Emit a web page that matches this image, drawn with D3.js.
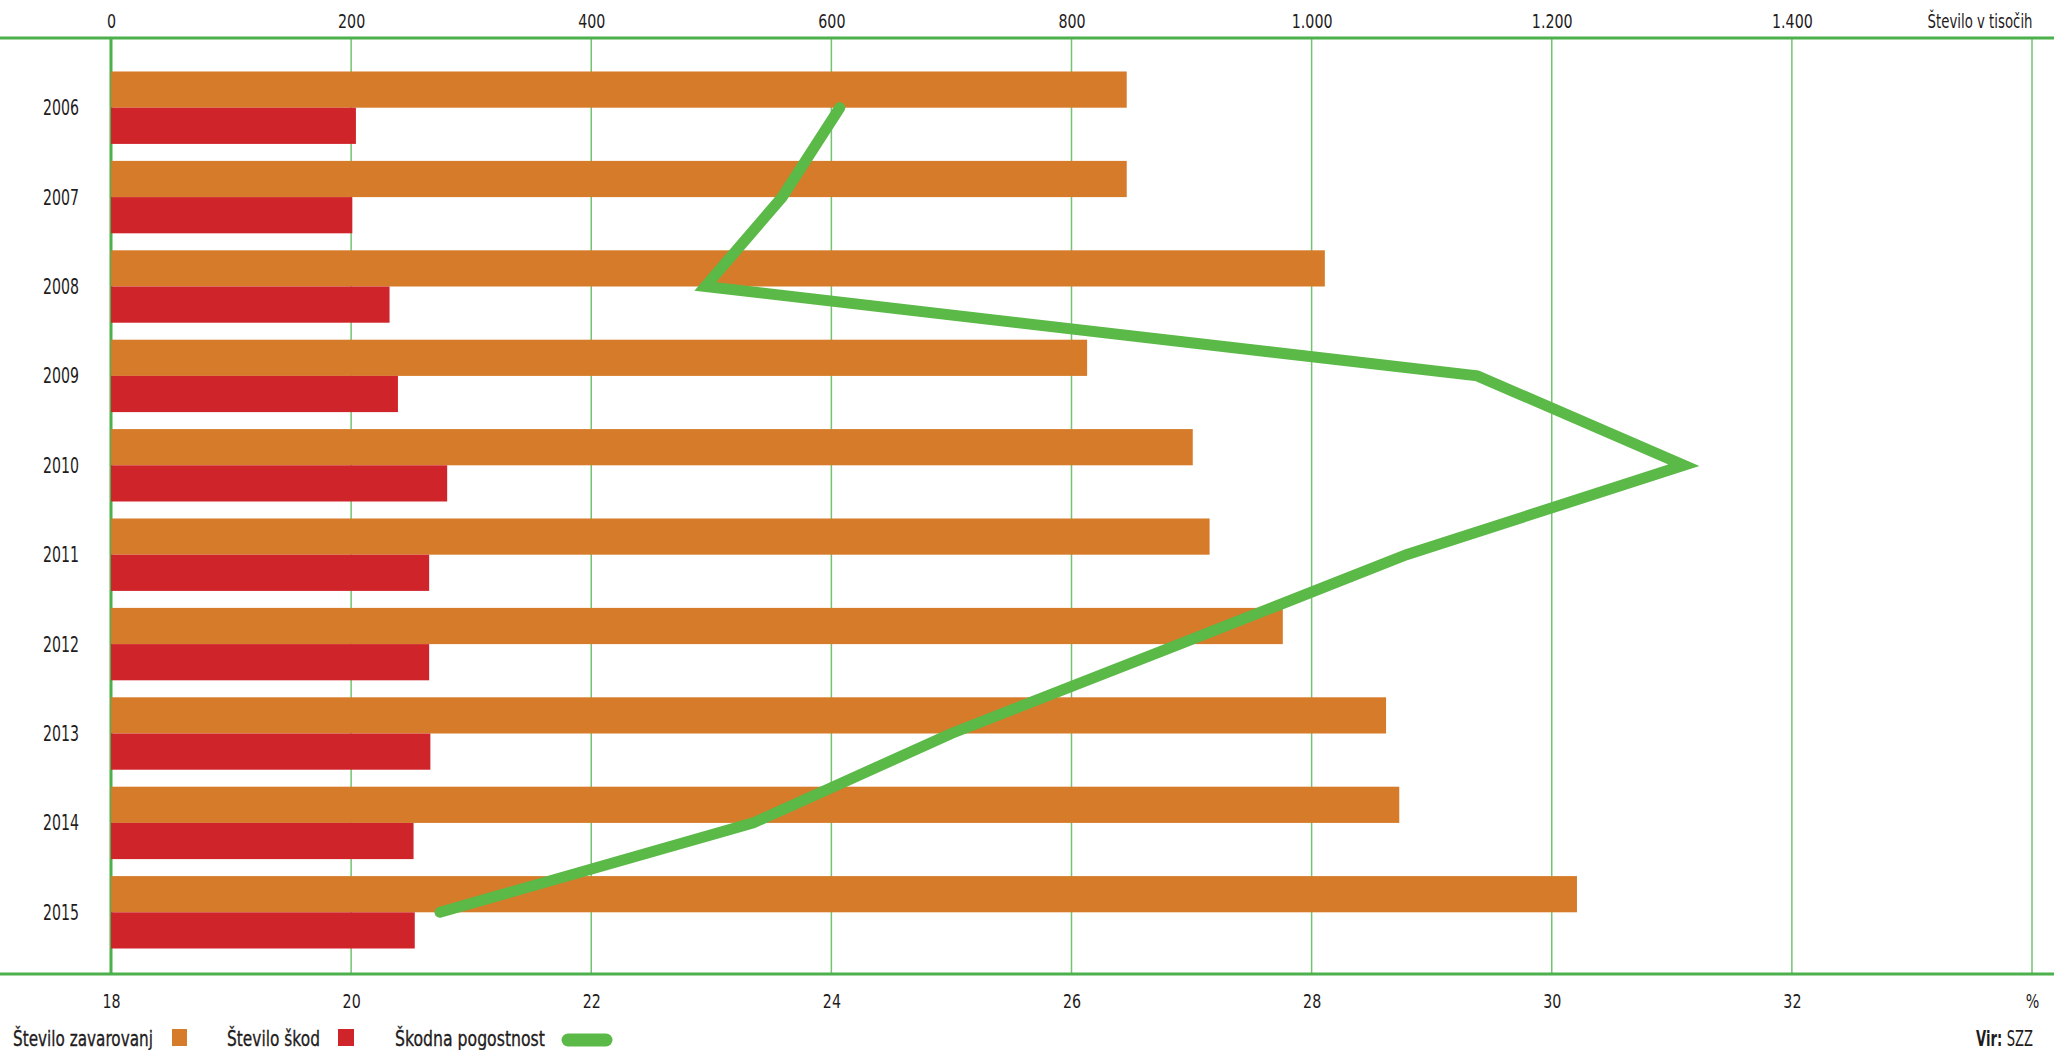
<!DOCTYPE html>
<html lang="sl">
<head>
    <meta charset="utf-8">
    <title>Število zavarovanj, škod in škodna pogostnost</title>
    <script src="https://cdn.jsdelivr.net/npm/d3@7"></script>
    <style type="text/css">
        body {
            margin: 0;
            background: #fff;
        }
        text {
            font-family: "DejaVu Sans", sans-serif;
            fill: #1f1c1d;
        }
        .tick text {
            font-size: 19px;
        }
        text.year {
            font-size: 21px;
        }
        text.legend {
            font-size: 21px;
            stroke: #1f1c1d;
            stroke-width: 0.35px;
        }
    </style>
</head>
<body>
<script type="text/javascript">

    var years = ["2006", "2007", "2008", "2009", "2010", "2011", "2012", "2013", "2014", "2015"];
    // Število zavarovanj (v tisočih)
    var zavarovanja = [846, 846, 1011, 813, 901, 915, 976, 1062, 1073, 1221];
    // Število škod (v tisočih)
    var skode = [204, 201, 232, 239, 280, 265, 265, 266, 252, 253];
    // Škodna pogostnost (%)
    var pogostnost = [24.07, 23.59, 22.95, 29.38, 31.1, 28.79, 26.9, 25.0, 23.35, 20.74];

    var topTicks = [0, 200, 400, 600, 800, 1000, 1200, 1400, 1600];
    var bottomTicks = [18, 20, 22, 24, 26, 28, 30, 32, 34];

    var w = 2054;
    var h = 1050;
    var axisTop = 38;
    var axisBottom = 974;

    var orange = "#d67b2a";
    var red = "#d0242b";
    var lineGreen = "#5bb947";
    var gridGreen = "#72c46f";
    var axisGreen = "#4cb04d";

    var fmt = d3.formatLocale({decimal: ",", thousands: ".", grouping: [3], currency: ["", " €"]}).format(",");

    // no condensed font installed, so squeeze the text horizontally
    function squeeze(sel, sx) {
        sel.each(function () {
            var t = d3.select(this);
            var x = +t.attr("x") || 0, y = +t.attr("y") || 0;
            var s = typeof sx === "function" ? sx.call(this) : sx;
            t.attr("x", 0).attr("y", 0)
                .attr("transform", "translate(" + x + "," + y + ") scale(" + s + ",1)");
        });
    }
    function fit(target) {
        return function () { return target / this.getComputedTextLength(); };
    }

    var svg = d3.select("body")
        .append("svg")
        .attr("width", w)
        .attr("height", h);

    var xNum = d3.scaleLinear()
        .domain([0, 1600])
        .range([111, 2032]);

    var xPct = d3.scaleLinear()
        .domain([18, 34])
        .range([111, 2032]);

    var y = d3.scaleBand()
        .domain(years)
        .range([63, 957])
        .paddingInner(0.19)
        .paddingOuter(0.095);

    //Gridlines
    svg.append("g")
        .selectAll("line")
        .data(topTicks)
        .enter()
        .append("line")
        .attr("x1", function (d) { return xNum(d); })
        .attr("x2", function (d) { return xNum(d); })
        .attr("y1", axisTop)
        .attr("y2", axisBottom)
        .attr("stroke", function (d) { return d === 0 ? axisGreen : gridGreen; })
        .attr("stroke-width", function (d) { return d === 0 ? 3 : 1.5; });

    //Bars
    var rows = svg.append("g")
        .selectAll("g")
        .data(years)
        .enter()
        .append("g");

    rows.append("rect")
        .attr("x", xNum(0))
        .attr("y", function (d) { return y(d); })
        .attr("height", y.bandwidth() / 2)
        .attr("width", function (d, i) { return xNum(zavarovanja[i]) - xNum(0); })
        .attr("fill", orange);

    rows.append("rect")
        .attr("x", xNum(0))
        .attr("y", function (d) { return y(d) + y.bandwidth() / 2; })
        .attr("height", y.bandwidth() / 2)
        .attr("width", function (d, i) { return xNum(skode[i]) - xNum(0); })
        .attr("fill", red);

    //Year labels
    rows.append("text")
        .attr("class", "year")
        .attr("x", 79)
        .attr("y", function (d) { return y(d) + y.bandwidth() / 2; })
        .attr("dy", "0.36em")
        .attr("text-anchor", "end")
        .text(function (d) { return d; })
        .call(squeeze, fit(36));

    //Line
    var line = d3.line()
        .x(function (d) { return xPct(d); })
        .y(function (d, i) { return y(years[i]) + y.bandwidth() / 2; });

    svg.append("path")
        .datum(pogostnost)
        .attr("fill", "none")
        .attr("stroke", lineGreen)
        .attr("stroke-width", 11)
        .attr("stroke-linecap", "round")
        .attr("stroke-linejoin", "miter")
        .attr("stroke-miterlimit", 20)
        .attr("d", line);

    //Axes
    var topAxis = d3.axisTop(xNum)
        .tickValues(topTicks)
        .tickSize(0)
        .tickPadding(10)
        .tickFormat(function (d) { return d === 1600 ? "Število v tisočih" : fmt(d); });

    var gTop = svg.append("g")
        .attr("transform", "translate(0," + axisTop + ")")
        .call(topAxis);
    gTop.select(".domain").remove();
    gTop.selectAll(".tick text")
        .filter(function (d) { return d !== 1600; })
        .call(squeeze, 0.75);
    gTop.selectAll(".tick text")
        .filter(function (d) { return d === 1600; })
        .attr("text-anchor", "end")
        .call(squeeze, fit(105));

    var bottomAxis = d3.axisBottom(xPct)
        .tickValues(bottomTicks)
        .tickSize(0)
        .tickPadding(20)
        .tickFormat(function (d) { return d === 34 ? "%" : d; });

    var gBottom = svg.append("g")
        .attr("transform", "translate(0," + axisBottom + ")")
        .call(bottomAxis);
    gBottom.select(".domain").remove();
    gBottom.selectAll(".tick text").call(squeeze, 0.75);

    svg.selectAll("line.axisline")
        .data([axisTop, axisBottom])
        .enter()
        .append("line")
        .attr("class", "axisline")
        .attr("x1", 0)
        .attr("x2", w)
        .attr("y1", function (d) { return d; })
        .attr("y2", function (d) { return d; })
        .attr("stroke", axisGreen)
        .attr("stroke-width", 3);

    //Legend
    var legY = 1038;
    svg.append("text").attr("class", "legend").attr("x", 13).attr("y", legY).attr("dy", "0.36em")
        .text("Število zavarovanj")
        .call(squeeze, fit(140));
    svg.append("rect").attr("x", 172).attr("y", legY - 9).attr("width", 15).attr("height", 17).attr("fill", orange);

    svg.append("text").attr("class", "legend").attr("x", 227).attr("y", legY).attr("dy", "0.36em")
        .text("Število škod")
        .call(squeeze, fit(93));
    svg.append("rect").attr("x", 338).attr("y", legY - 9).attr("width", 16).attr("height", 17).attr("fill", red);

    svg.append("text").attr("class", "legend").attr("x", 395).attr("y", legY).attr("dy", "0.36em")
        .text("Škodna pogostnost")
        .call(squeeze, fit(150));
    svg.append("line")
        .attr("x1", 568).attr("x2", 606)
        .attr("y1", legY + 2).attr("y2", legY + 2)
        .attr("stroke", lineGreen)
        .attr("stroke-width", 13)
        .attr("stroke-linecap", "round");

    var vir = svg.append("text")
        .attr("class", "year")
        .attr("x", 2033).attr("y", legY).attr("dy", "0.36em")
        .attr("text-anchor", "end");
    vir.append("tspan").attr("font-weight", "bold").text("Vir: ");
    vir.append("tspan").text("SZZ");
    vir.call(squeeze, fit(57));

</script>
</body>
</html>
